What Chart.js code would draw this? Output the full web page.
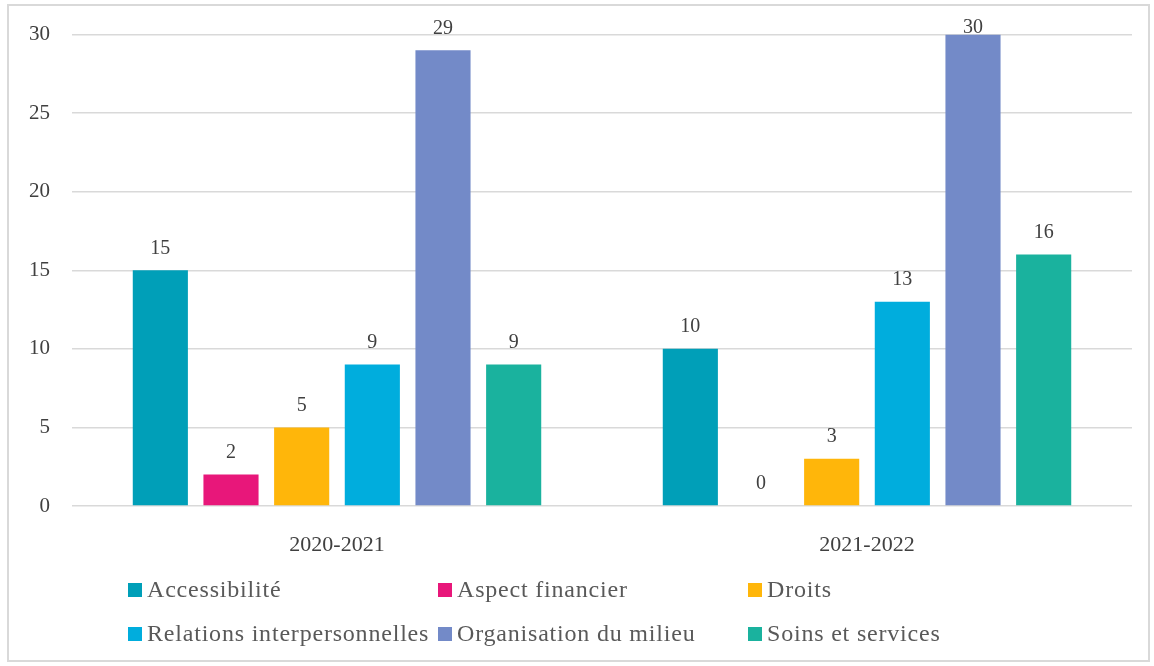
<!DOCTYPE html>
<html>
<head>
<meta charset="utf-8">
<script src="https://cdn.jsdelivr.net/npm/chart.js@4"></script>
<style>
  body { margin: 0; background: #fff; }
  #wrap { position: relative; width: 1154px; height: 666px; }
  #frame { position: absolute; left: 7px; top: 4px; width: 1143px; height: 658px; border: 2px solid #d9d9d9; box-sizing: border-box; }
  #chart { position: absolute; left: 0; top: 0; }
  #legend { position: absolute; left: 128px; top: 573px; display: grid; grid-template-columns: 310px 310px 310px; row-gap: 12px;
            font-family: "Liberation Serif", serif; font-size: 24px; letter-spacing: 0.8px; color: #595959; }
  #legend span.item { display: flex; align-items: center; height: 32px; white-space: nowrap; }
  #legend span.box { display: inline-block; width: 14px; height: 14px; margin-right: 5px; margin-top: 2px; }
</style>
</head>
<body>
<div id="wrap">
  <div id="frame"></div>
  <canvas id="chart" width="1154" height="666"></canvas>
  <div id="legend"></div>
</div>
<script>
var categories = ["2020-2021", "2021-2022"];
var seriesNames = ["Accessibilité", "Aspect financier", "Droits", "Relations interpersonnelles", "Organisation du milieu", "Soins et services"];
var seriesColors = ["#009fb8", "#e8177a", "#ffb60a", "#00addd", "#738ac8", "#1ab29e"];
var accessibilite = [15, 10];
var aspectFinancier = [2, 0];
var droits = [5, 3];
var relations = [9, 13];
var organisation = [29, 30];
var soins = [9, 16];
var seriesValues = [accessibilite, aspectFinancier, droits, relations, organisation, soins];

var labelFont = '"Liberation Serif", serif';

// small plugin to write the value above each bar
var valueLabels = {
  id: "valueLabels",
  afterDatasetsDraw: function (chart) {
    var ctx = chart.ctx;
    ctx.save();
    ctx.font = "20px " + labelFont;
    ctx.fillStyle = "#404040";
    ctx.textAlign = "center";
    ctx.textBaseline = "middle";
    chart.data.datasets.forEach(function (ds, i) {
      var meta = chart.getDatasetMeta(i);
      meta.data.forEach(function (bar, j) {
        // keep the label inside the frame, like the original
        var y = Math.max(bar.y - 22, 28);
        ctx.fillText(String(ds.data[j]), bar.x, y);
      });
    });
    ctx.restore();
  }
};

var datasets = seriesNames.map(function (name, i) {
  return {
    label: name,
    data: seriesValues[i],
    backgroundColor: seriesColors[i],
    borderWidth: 0
  };
});

var ctx = document.getElementById("chart").getContext("2d");
var chart = new Chart(ctx, {
  type: "bar",
  data: { labels: categories, datasets: datasets },
  plugins: [valueLabels],
  options: {
    responsive: false,
    animation: false,
    layout: { padding: { left: 0, right: 22, top: 34, bottom: 110 } },
    datasets: { bar: { categoryPercentage: 0.8, barPercentage: 0.78 } },
    scales: {
      x: {
        grid: { display: false },
        border: { display: false },
        ticks: { color: "#404040", font: { family: labelFont, size: 22 }, padding: 18 },
        afterFit: function (s) { s.height = 50; }
      },
      y: {
        min: 0,
        max: 30,
        ticks: { stepSize: 5, color: "#404040", font: { family: labelFont, size: 21 }, padding: 22 },
        grid: { color: "#d9d9d9", lineWidth: 1.5, drawTicks: false },
        border: { display: false },
        afterFit: function (s) { s.width = 72; }
      }
    },
    plugins: {
      legend: { display: false },
      tooltip: { enabled: false }
    }
  }
});

var legend = document.getElementById("legend");
chart.data.datasets.forEach(function (ds) {
  var item = document.createElement("span");
  item.className = "item";
  var box = document.createElement("span");
  box.className = "box";
  box.style.background = ds.backgroundColor;
  item.appendChild(box);
  item.appendChild(document.createTextNode(ds.label));
  legend.appendChild(item);
});
</script>
</body>
</html>
